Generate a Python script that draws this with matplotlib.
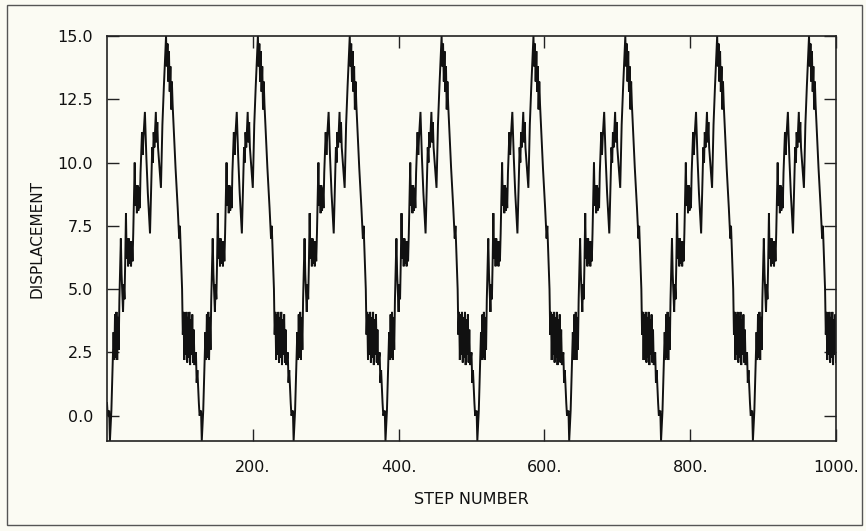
import matplotlib
matplotlib.use("Agg")
import matplotlib.pyplot as plt
import numpy as np

# one cycle of the walk: step offset from a minimum, displacement
cycle_offsets = [0, 2, 3, 4, 5, 6, 7, 8, 9, 10, 11, 12, 13, 15, 16, 18, 19, 20, 21, 22,
                 23, 24, 25, 26, 27, 28, 29, 30, 31, 32, 34, 35, 36, 37, 38, 39, 40, 41, 42, 44,
                 45, 46, 48, 50, 52, 55, 57, 58, 59, 60, 61, 63, 64, 65, 66, 68, 70, 72, 74, 77,
                 78, 79, 80, 81, 82, 83, 84, 85, 86, 90, 93, 95, 96, 99, 100, 101, 102, 103, 104, 105,
                 106, 107, 108, 109, 110, 111, 112, 113, 114, 115, 116, 118, 119, 120, 122, 123, 125]
cycle_values = [-1.0, 0.2, 1.2, 2.1, 3.3, 2.2, 4.0, 2.3, 4.1, 2.2, 3.9, 2.6, 4.6, 7.0, 5.6, 4.1, 5.2, 4.6, 6.1, 8.0,
                6.2, 7.0, 5.9, 7.0, 6.0, 6.9, 5.9, 6.9, 6.1, 7.2, 10.0, 8.3, 9.1, 8.0, 9.1, 8.1, 9.0, 8.2, 9.6, 11.2,
                10.3, 11.0, 12.0, 10.2, 8.8, 7.2, 9.5, 10.6, 10.0, 11.2, 10.6, 12.0, 10.8, 11.6, 10.6, 9.8, 9.0, 11.5, 13.0, 15.0,
                13.8, 14.7, 13.2, 14.4, 12.8, 13.8, 12.1, 13.2, 12.3, 9.8, 8.2, 7.0, 7.5, 5.0, 3.2, 4.1, 2.2, 4.0, 2.4, 4.1,
                2.1, 3.9, 2.3, 4.1, 2.0, 3.8, 2.4, 4.0, 2.1, 3.4, 2.0, 2.5, 1.3, 1.8, 0.5, 0.0, 0.2]

# steps where the curve touches its minimum
minima_steps = [-122, 4, 130, 256, 382, 508, 634, 760, 886]

y_ticks = [0.0, 2.5, 5.0, 7.5, 10.0, 12.5, 15.0]
y_labels = ["0.0", "2.5", "5.0", "7.5", "10.0", "12.5", "15.0"]
x_ticks = [200, 400, 600, 800, 1000]
x_labels = ["200.", "400.", "600.", "800.", "1000."]

steps = []
disp = []
for m in minima_steps:
    for o, v in zip(cycle_offsets, cycle_values):
        steps.append(m + o)
        disp.append(v)
steps = np.array(steps)
disp = np.array(disp)
keep = (steps >= 0) & (steps <= 1001)
steps = steps[keep]
disp = disp[keep]

bg = "#fbfbf3"
fig = plt.figure(figsize=(8.66, 5.31), dpi=100)
fig.patch.set_facecolor(bg)
ax = fig.add_axes([107 / 866, 1 - 441 / 531, 729 / 866, 405 / 531])
ax.set_facecolor(bg)

ax.plot(steps, disp, color="#111111", linewidth=1.4, solid_joinstyle="miter")

ax.set_xlim(0, 1000)
ax.set_ylim(-1, 15)
ax.set_yticks(y_ticks)
ax.set_yticklabels(y_labels)
ax.set_xticks(x_ticks)
ax.set_xticklabels(x_labels)

ax.tick_params(axis="both", direction="in", length=8.5, width=1.0, color="#222222",
               top=True, right=True, labelsize=11.5, labelcolor="#111111")
ax.tick_params(axis="y", pad=10)
ax.tick_params(axis="x", pad=14)
for s in ax.spines.values():
    s.set_linewidth(1.2)
    s.set_color("#222222")

ax.set_xlabel("STEP NUMBER", fontsize=11.5, color="#111111", labelpad=12)
ax.set_ylabel("DISPLACEMENT", fontsize=11, color="#111111", labelpad=9)

# page border around the scanned figure
border = plt.Rectangle((0.008, 0.012), 0.987, 0.978, transform=fig.transFigure,
                       fill=False, edgecolor="#555555", linewidth=1.0)
fig.patches.append(border)

fig.savefig("out.png", dpi=100, facecolor=bg)
